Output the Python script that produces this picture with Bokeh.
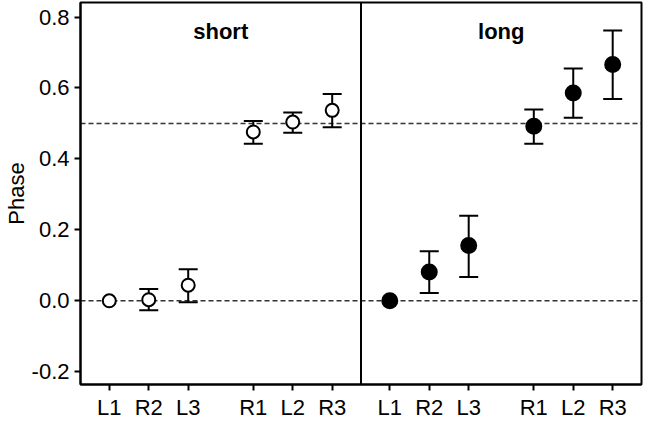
from bokeh.plotting import figure
from bokeh.models import ColumnDataSource, Whisker, Span, FixedTicker, PrintfTickFormatter, Label, TeeHead, Range1d
from bokeh.embed import file_html
from bokeh.resources import INLINE

# ---- data ----
conditions = ["L1", "R2", "L3", "R1", "L2", "R3"]
positions = [1.0, 2.0, 3.0, 4.65, 5.65, 6.65]
panel_width = 7.11

short_mean = [0.000, 0.003, 0.044, 0.476, 0.504, 0.537]
short_lo   = [0.000, -0.027, -0.004, 0.443, 0.474, 0.489]
short_hi   = [0.000, 0.033, 0.089, 0.507, 0.531, 0.583]

long_mean = [0.000, 0.081, 0.156, 0.492, 0.586, 0.666]
long_lo   = [0.000, 0.022, 0.067, 0.443, 0.516, 0.569]
long_hi   = [0.000, 0.140, 0.240, 0.539, 0.655, 0.762]

y_ticks = [-0.2, 0.0, 0.2, 0.4, 0.6, 0.8]
ref_lines = [0.0, 0.5]
panel_titles = ["short", "long"]
y_label = "Phase"

FONT = "Liberation Sans"
FS = "22px"

x_short = positions
x_long = [p + panel_width for p in positions]
x0 = positions[0] - 0.73

p = figure(width=660, height=422, output_backend="svg", toolbar_location=None,
           x_range=Range1d(x0, x0 + 2 * panel_width),
           y_range=Range1d(-0.236, 0.841),
           min_border_left=79, min_border_right=19, min_border_top=2, min_border_bottom=35)
p.xgrid.visible = False
p.ygrid.visible = False
p.background_fill_color = "white"
p.outline_line_color = "black"
p.outline_line_width = 2
p.outline_line_alpha = 1

# reference dashed lines
for yv in ref_lines:
    p.add_layout(Span(location=yv, dimension="width", line_color="#333333",
                      line_width=1.4, line_dash="5 3", level="underlay"))
# panel divider
p.add_layout(Span(location=x0 + panel_width, dimension="height",
                  line_color="black", line_width=2))

def add_series(xs, mean, lo, hi, fill):
    idx = [i for i in range(len(xs)) if hi[i] - lo[i] > 0]
    wsrc = ColumnDataSource(dict(x=[xs[i] for i in idx], lo=[lo[i] for i in idx],
                                 hi=[hi[i] for i in idx]))
    w = Whisker(source=wsrc, base="x", lower="lo", upper="hi", line_color="black",
                line_width=2, level="underlay",
                upper_head=TeeHead(size=19, line_width=2, line_color="black"),
                lower_head=TeeHead(size=19, line_width=2, line_color="black"))
    p.add_layout(w)
    src = ColumnDataSource(dict(x=xs, y=mean))
    p.scatter("x", "y", source=src, size=13 if fill == "white" else 15,
              fill_color=fill, line_color="black", line_width=2)

add_series(x_short, short_mean, short_lo, short_hi, "white")
add_series(x_long, long_mean, long_lo, long_hi, "black")

# panel titles
centers = [x0 + panel_width * 0.5, x0 + panel_width * 1.5]
for cx, t in zip(centers, panel_titles):
    p.add_layout(Label(x=cx, y=0.758, text=t, text_font=FONT, text_font_size=FS,
                       text_font_style="bold", text_align="center", text_baseline="alphabetic",
                       text_color="black"))

# axes
tick_pos = x_short + x_long
p.xaxis.ticker = FixedTicker(ticks=tick_pos)
p.xaxis.major_label_overrides = {t: c for t, c in zip(tick_pos, conditions + conditions)}
p.yaxis.ticker = FixedTicker(ticks=y_ticks)
p.yaxis.formatter = PrintfTickFormatter(format="%.1f")
p.yaxis.axis_label = y_label

for ax in (p.xaxis[0], p.yaxis[0]):
    ax.axis_line_color = "black"
    ax.axis_line_width = 2
    ax.major_tick_line_color = "black"
    ax.major_tick_line_width = 2
    ax.major_tick_out = 6
    ax.major_tick_in = 0
    ax.minor_tick_line_color = None
    ax.major_label_text_font = FONT
    ax.major_label_text_font_size = FS
    ax.major_label_text_color = "black"
    ax.axis_label_text_font = FONT
    ax.axis_label_text_font_size = FS
    ax.axis_label_text_font_style = "normal"
    ax.axis_label_text_color = "black"

p.yaxis.major_label_standoff = 5
p.yaxis.axis_label_standoff = 0
p.xaxis.major_label_standoff = 4

open("out.html", "w").write(file_html(p, INLINE))
